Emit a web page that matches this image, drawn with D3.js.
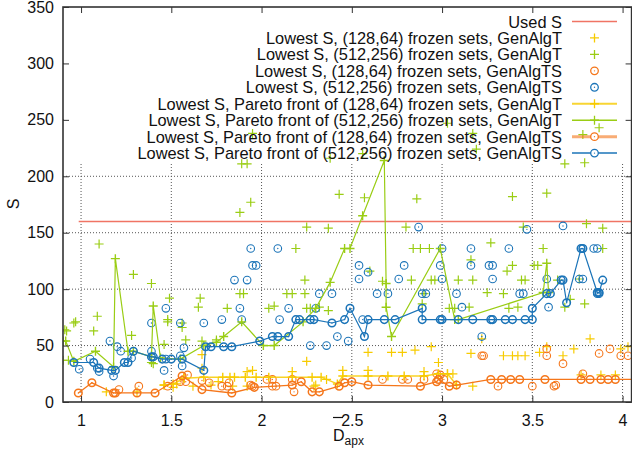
<!DOCTYPE html>
<html>
<head>
<meta charset="utf-8">
<script src="https://cdn.jsdelivr.net/npm/d3@7"></script>
<style>
  body { margin: 0; background: #fff; }
  svg { font-family: "Liberation Sans", Arial, sans-serif; }
</style>
</head>
<body>
<div id="chart"></div>
<script>
// values: [D_apx, S]
const usedS = [[0.987, 160], [4.1, 160]];

const scatT128 = [[1.14,9],[1.31,9],[1.46,15],[1.51,13],[1.53,16],[1.57,21],[1.62,14],[1.67,42],[1.67,30],[1.72,15],[1.76,18],[1.84,14],[1.92,14],[1.92,27],[1.95,28],[2.17,27],[2.25,36],[2.29,14],[2.30,15],[2.36,20],[2.45,28],[2.59,44],[2.59,28],[2.72,44],[2.78,44],[2.85,46],[2.90,27],[2.94,49],[2.98,35],[3.03,25],[3.06,25],[3.16,43],[3.17,14],[3.22,56],[3.34,41],[3.39,41],[3.42,41],[3.46,41],[3.54,44],[3.58,49],[3.67,41],[3.73,47],[3.77,24],[3.82,56],[3.88,24],[3.96,24],[3.99,47],[4.03,49]];

const scatT512 = [[0.90,37],[0.92,63],[0.91,64],[0.97,71],[0.96,70],[0.93,37],[1.07,63],[1.09,76],[1.10,140],[1.29,113],[1.28,59],[1.39,105],[1.39,35],[1.40,34],[1.48,73],[1.48,71],[1.49,92],[1.46,51],[1.56,70],[1.56,66],[1.58,55],[1.65,84],[1.66,92],[1.67,54],[1.75,55],[1.81,83],[1.88,96],[1.90,96],[1.88,168],[1.94,177],[1.89,211],[1.92,211],[1.95,238],[2.04,83],[2.07,85],[2.14,96],[2.17,96],[2.19,136],[2.24,108],[2.24,96],[2.25,155],[2.25,83],[2.27,83],[2.32,84],[2.37,81],[2.37,154],[2.38,216],[2.43,184],[2.56,220],[2.57,181],[2.60,116],[2.67,107],[2.80,155],[2.83,108],[2.84,136],[2.86,180],[2.88,136],[2.89,87],[2.90,96],[2.93,136],[2.94,108],[2.96,108],[3.03,247],[3.04,83],[3.07,83],[3.09,108],[3.15,84],[3.16,126],[3.17,108],[3.17,238],[3.19,224],[3.25,97],[3.27,141],[3.34,96],[3.36,116],[3.37,83],[3.39,121],[3.39,182],[3.42,84],[3.44,108],[3.45,155],[3.46,108],[3.51,121],[3.53,121],[3.56,136],[3.58,185],[3.64,108],[3.68,84],[3.68,211],[3.71,91],[3.76,109],[3.78,237],[3.79,87],[3.79,212],[3.80,158],[3.87,243],[3.89,154],[3.89,136]];

const scatTS128 = [[1.21,11],[1.32,14],[1.48,14],[1.55,18],[1.58,18],[1.59,24],[1.67,19],[1.71,17],[1.78,14],[1.81,14],[1.82,17],[1.94,15],[1.95,14],[2.03,20],[2.06,20],[2.06,14],[2.08,14],[2.17,20],[2.18,9],[2.67,20],[2.78,20],[2.81,20],[2.90,20],[2.97,25],[2.99,24],[3.01,20],[3.22,41],[3.23,41],[3.31,14],[3.50,14],[3.58,47],[3.58,41],[3.62,14],[3.63,15],[3.67,34],[3.78,25],[3.87,43],[3.93,47],[3.99,41],[4.03,41]];

const scatTS512 = [[0.99,29],[1.05,38],[1.09,30],[1.10,27],[1.16,54],[1.18,23],[1.20,49],[1.22,45],[1.28,39],[1.39,70],[1.39,45],[1.46,28],[1.47,38],[1.47,83],[1.55,70],[1.55,41],[1.56,32],[1.57,48],[1.68,70],[1.78,73],[1.85,108],[1.88,83],[1.89,73],[1.92,108],[1.94,136],[1.95,121],[1.97,121],[2.09,136],[2.10,73],[2.15,83],[2.27,50],[2.30,83],[2.32,96],[2.36,50],[2.39,96],[2.42,58],[2.48,54],[2.54,121],[2.54,109],[2.56,73],[2.59,115],[2.64,96],[2.70,96],[2.76,109],[2.79,121],[2.87,155],[2.89,96],[2.91,96],[2.99,121],[3.00,109],[3.00,136],[3.08,96],[3.11,84],[3.16,121],[3.16,136],[3.22,58],[3.26,121],[3.28,121],[3.28,109],[3.37,136],[3.43,96],[3.45,96],[3.47,153],[3.58,109],[3.59,84],[3.67,156],[3.76,109],[3.78,109],[3.84,136],[3.86,136],[3.86,96],[3.87,96]];

const frontT128 = [[1.46,15],[1.51,16],[1.57,21],[1.68,22],[1.785,22],[1.825,22],[1.85,22],[1.91,22],[1.97,22],[2.04,22],[2.17,22],[2.28,22],[2.33,22],[2.42,16],[2.45,23],[2.59,23],[2.70,23],[2.79,23],[2.90,23],[2.98,25],[3.03,25],[3.08,15]];

const frontT512 = [[0.90,54],[0.915,54],[0.96,36],[1.08,45],[1.18,31],[1.19,127],[1.26,45],[1.29,45],[1.39,40],[1.40,85],[1.44,39],[1.55,38],[1.68,50],[1.75,53],[1.79,58],[1.89,71],[2.01,50],[2.07,50],[2.23,71],[2.30,83],[2.38,106],[2.46,136],[2.49,136],[2.56,165],[2.68,214],[2.69,105],[2.69,84],[2.72,58],[2.99,136],[3.07,73],[3.09,73],[3.56,97],[3.58,123],[3.59,97]];

const frontTS128 = [[0.985,8],[1.06,17],[1.18,8],[1.19,8],[1.31,8],[1.41,8],[1.56,23],[1.67,11],[1.835,8],[1.96,13],[2.17,15],[2.22,18],[2.28,9],[2.32,9],[2.43,14],[2.46,17],[2.50,18],[2.59,15],[2.88,14],[2.97,18],[2.98,20],[3.04,14],[3.08,15],[3.27,20],[3.33,20],[3.38,20],[3.43,20],[3.57,20],[3.77,20],[3.82,20],[3.88,20],[3.92,20],[3.96,20],[4.1,20]];

const frontTS512 = [[0.96,35],[1.07,35],[1.10,30],[1.17,28],[1.19,28],[1.24,35],[1.26,35],[1.29,45],[1.39,40],[1.40,40],[1.45,38],[1.50,38],[1.56,38],[1.68,28],[1.69,49],[1.72,49],[1.79,49],[1.835,49],[1.99,54],[2.06,58],[2.09,58],[2.15,58],[2.19,73],[2.21,73],[2.27,73],[2.29,73],[2.39,70],[2.46,73],[2.49,83],[2.57,58],[2.59,73],[2.68,73],[2.74,73],[2.89,83],[2.89,73],[2.99,73],[3.00,73],[3.09,73],[3.17,73],[3.27,73],[3.28,73],[3.35,73],[3.39,73],[3.46,73],[3.50,73],[3.50,83],[3.58,96],[3.60,96],[3.66,108],[3.67,108],[3.69,88],[3.77,136],[3.78,136],[3.86,97],[3.87,97],[3.89,108]];

const xTicks = [1, 1.5, 2, 2.5, 3, 3.5, 4];
const yTicks = [0, 50, 100, 150, 200, 250, 300, 350];

const legendLabels = [
  'Used S',
  'Lowest S, (128,64) frozen sets, GenAlgT',
  'Lowest S, (512,256) frozen sets, GenAlgT',
  'Lowest S, (128,64) frozen sets, GenAlgTS',
  'Lowest S, (512,256) frozen sets, GenAlgTS',
  'Lowest S, Pareto front of (128,64) frozen sets, GenAlgT',
  'Lowest S, Pareto front of (512,256) frozen sets, GenAlgT',
  'Lowest S, Pareto front of (128,64) frozen sets, GenAlgTS',
  'Lowest S, Pareto front of (512,256) frozen sets, GenAlgTS'
];

const red = '#f07464', yellow = '#f7cb00', green = '#9acd14', orange = '#f5761a', blue = '#1b74b8';

const width = 632, height = 450;
const plotLeft = 63, plotRight = 631.6, plotTop = 7, plotBottom = 402;
const keyBottom = 162;

const x = d3.scaleLinear().domain([0.9, 4.05]).range([plotLeft, plotRight]);
const y = d3.scaleLinear().domain([0, 350]).range([plotBottom, plotTop]);

const svg = d3.select('#chart')
  .append('svg')
  .attr('width', width)
  .attr('height', height);

svg.append('defs').append('clipPath')
  .attr('id', 'clip')
  .append('rect')
  .attr('x', plotLeft).attr('y', plotTop)
  .attr('width', plotRight - plotLeft).attr('height', plotBottom - plotTop);

//Grid
const grid = svg.append('g').attr('stroke', '#555').attr('stroke-dasharray', '1,2').attr('stroke-width', 1);
grid.selectAll('.vg').data(xTicks).enter().append('line')
  .attr('x1', d => x(d)).attr('x2', d => x(d))
  .attr('y1', y(0)).attr('y2', y(350));
grid.selectAll('.hg').data(yTicks.slice(1, -1)).enter().append('line')
  .attr('x1', plotLeft).attr('x2', plotRight)
  .attr('y1', d => y(d)).attr('y2', d => y(d));

//opaque key box
svg.append('rect')
  .attr('x', plotLeft + 1).attr('y', plotTop + 1)
  .attr('width', plotRight - plotLeft - 1).attr('height', keyBottom - plotTop - 1)
  .attr('fill', '#fff');

const plot = svg.append('g').attr('clip-path', 'url(#clip)');
const line = d3.line().x(d => x(d[0])).y(d => y(d[1]));

const plus = (g, data, color, sw) => {
  g.selectAll(null).data(data).enter().append('path')
    .attr('transform', d => `translate(${x(d[0])},${y(d[1])})`)
    .attr('d', 'M-4.5,0H4.5M0,-4.5V4.5')
    .attr('stroke', color).attr('stroke-width', sw).attr('fill', 'none');
};
const ring = (g, data, color, sw) => {
  const m = g.selectAll(null).data(data).enter().append('g')
    .attr('transform', d => `translate(${x(d[0])},${y(d[1])})`);
  m.append('circle').attr('r', 3.8).attr('fill', 'none').attr('stroke', color).attr('stroke-width', sw);
  m.append('circle').attr('r', 0.7).attr('fill', color);
};

//Used S
plot.append('path').datum(usedS).attr('d', line)
  .attr('fill', 'none').attr('stroke', red).attr('stroke-width', 1.5);

//scatter sets
plus(plot, scatT128, yellow, 1.2);
plus(plot, scatT512, green, 1.2);
ring(plot, scatTS128, orange, 1.1);
ring(plot, scatTS512, blue, 1.1);

//Pareto fronts
plot.append('path').datum(frontT128).attr('d', line)
  .attr('fill', 'none').attr('stroke', yellow).attr('stroke-width', 1.5).attr('opacity', 0.85);
plus(plot, frontT128, yellow, 1.4);
plot.append('path').datum(frontT512).attr('d', line)
  .attr('fill', 'none').attr('stroke', green).attr('stroke-width', 1.2);
plus(plot, frontT512, green, 1.4);
plot.append('path').datum(frontTS128).attr('d', line)
  .attr('fill', 'none').attr('stroke', orange).attr('stroke-width', 1.3);
ring(plot, frontTS128, orange, 1.5);
plot.append('path').datum(frontTS512).attr('d', line)
  .attr('fill', 'none').attr('stroke', blue).attr('stroke-width', 1.2);
ring(plot, frontTS512, blue, 1.5);

//Axes with inward ticks on every side
const fontSize = 16;
svg.append('g').attr('transform', `translate(0,${plotBottom})`)
  .call(d3.axisBottom(x).tickValues(xTicks).tickSizeInner(-6).tickSizeOuter(0).tickPadding(13).tickFormat(d3.format('')));
svg.append('g').attr('transform', `translate(${plotLeft},0)`)
  .call(d3.axisLeft(y).tickValues(yTicks).tickSizeInner(-6).tickSizeOuter(0).tickPadding(9));
svg.append('g').attr('transform', `translate(0,${plotTop})`)
  .call(d3.axisTop(x).tickValues(xTicks).tickSizeInner(-6).tickSizeOuter(0).tickFormat(''));
svg.append('g').attr('transform', `translate(${plotRight},0)`)
  .call(d3.axisRight(y).tickValues(yTicks).tickSizeInner(-6).tickSizeOuter(0).tickFormat(''));

svg.selectAll('.domain').remove();
svg.selectAll('.tick line').attr('stroke', '#333');
svg.selectAll('.tick text')
  .attr('font-family', '"Liberation Sans", Arial, sans-serif')
  .attr('font-size', fontSize).attr('fill', '#111');

//frame
svg.append('rect')
  .attr('x', plotLeft).attr('y', plotTop)
  .attr('width', plotRight - plotLeft).attr('height', plotBottom - plotTop)
  .attr('fill', 'none').attr('stroke', '#333').attr('stroke-width', 1.6);

//Axis labels
svg.append('text')
  .attr('transform', 'translate(13,204) rotate(-90)')
  .attr('text-anchor', 'middle').attr('dominant-baseline', 'central')
  .attr('font-size', fontSize).attr('fill', '#111')
  .text('S');

const xl = svg.append('text').attr('x', 333).attr('y', 441).attr('font-size', fontSize).attr('fill', '#111');
xl.append('tspan').text('D');
xl.append('tspan').attr('font-size', 12).attr('dy', 4).text('apx');
svg.append('line')
  .attr('x1', 333).attr('x2', 343).attr('y1', 417.5).attr('y2', 417.5)
  .attr('stroke', '#111').attr('stroke-width', 1.2);

//Legend
const keys = [
  { color: red, line: true, mark: null, lw: 1.5 },
  { color: yellow, line: false, mark: 'plus' },
  { color: green, line: false, mark: 'plus' },
  { color: orange, line: false, mark: 'ring' },
  { color: blue, line: false, mark: 'ring' },
  { color: yellow, line: true, mark: 'plus', lw: 2, op: 0.8 },
  { color: green, line: true, mark: 'plus', lw: 1.5 },
  { color: orange, line: true, mark: 'ring', lw: 3, op: 0.6 },
  { color: blue, line: true, mark: 'ring', lw: 1.5 }
];
const rowY = i => 21.5 + i * 16.45;
const legend = svg.append('g').attr('id', 'legend');

legend.selectAll('text').data(legendLabels).enter().append('text')
  .attr('x', 562).attr('y', (d, i) => rowY(i))
  .attr('text-anchor', 'end').attr('dominant-baseline', 'central')
  .attr('font-size', 16.4).attr('fill', '#111')
  .text(d => d);

keys.forEach((k, i) => {
  const cy = rowY(i);
  if (k.line) {
    legend.append('line')
      .attr('x1', 572).attr('x2', 617).attr('y1', cy).attr('y2', cy)
      .attr('stroke', k.color).attr('stroke-width', k.lw).attr('opacity', k.op || 1);
  }
  if (k.mark === 'plus') {
    legend.append('path')
      .attr('transform', `translate(594.5,${cy})`)
      .attr('d', 'M-4.5,0H4.5M0,-4.5V4.5')
      .attr('stroke', k.color).attr('stroke-width', 1.3).attr('fill', 'none');
  } else if (k.mark === 'ring') {
    legend.append('circle').attr('cx', 594.5).attr('cy', cy).attr('r', 3.8)
      .attr('fill', '#fff').attr('stroke', k.color).attr('stroke-width', 1.3);
    legend.append('circle').attr('cx', 594.5).attr('cy', cy).attr('r', 0.7).attr('fill', k.color);
  }
});
</script>
</body>
</html>
